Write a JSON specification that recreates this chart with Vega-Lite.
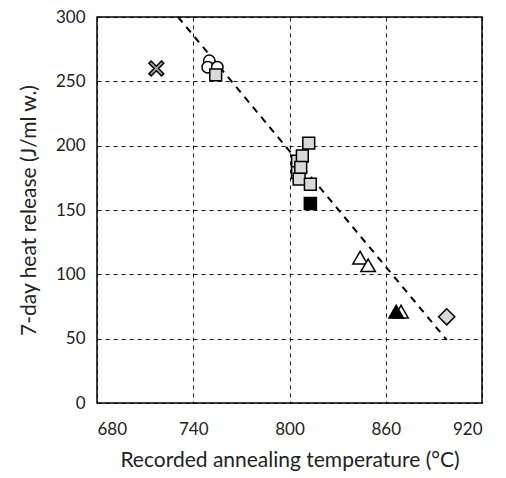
{
  "$schema": "https://vega.github.io/schema/vega-lite/v6.json",
  "autosize": "none",
  "width": 385,
  "height": 386,
  "padding": {"left": 97, "top": 17, "right": 24, "bottom": 75},
  "background": "white",
  "config": {
    "view": {"stroke": "black", "strokeWidth": 1.5},
    "font": "Lato",
    "axis": {
      "labelFont": "Lato",
      "titleFont": "Lato",
      "labelFontSize": 17,
      "titleFontSize": 21,
      "labelColor": "#222",
      "titleColor": "#222",
      "titleFontWeight": "normal",
      "domain": false,
      "ticks": false,
      "gridColor": "black",
      "gridDash": [4, 4],
      "gridWidth": 1,
      "gridOpacity": 0.9
    }
  },
  "datasets": {
    "pts": [
      {"series": "cross", "temp": 717, "heat": 260},
      {"series": "circle", "temp": 750, "heat": 266},
      {"series": "circle", "temp": 749, "heat": 261},
      {"series": "circle", "temp": 755, "heat": 261},
      {"series": "square", "temp": 754, "heat": 255},
      {"series": "square", "temp": 812, "heat": 202},
      {"series": "square", "temp": 805, "heat": 188},
      {"series": "square", "temp": 805, "heat": 179},
      {"series": "square", "temp": 808, "heat": 192},
      {"series": "square", "temp": 807, "heat": 183},
      {"series": "square", "temp": 806, "heat": 174},
      {"series": "square", "temp": 813, "heat": 170},
      {"series": "blacksquare", "temp": 813, "heat": 155},
      {"series": "triangle", "temp": 844, "heat": 113},
      {"series": "triangle", "temp": 849, "heat": 107},
      {"series": "triangle2", "temp": 869.5, "heat": 71},
      {"series": "blacktriangle", "temp": 866.5, "heat": 71},
      {"series": "diamond", "temp": 898, "heat": 67}
    ],
    "trend": [
      {"temp": 730.5, "heat": 300},
      {"temp": 898, "heat": 49}
    ]
  },
  "layer": [
    {
      "data": {"name": "trend"},
      "mark": {"type": "line", "color": "black", "strokeWidth": 2, "strokeDash": [7, 6]},
      "encoding": {
        "x": {"field": "temp", "type": "quantitative"},
        "y": {"field": "heat", "type": "quantitative"}
      }
    },
    {
      "data": {"name": "pts"},
      "mark": {"type": "point", "filled": true, "stroke": "black", "strokeWidth": 1.5, "opacity": 1},
      "encoding": {
        "x": {
          "field": "temp", "type": "quantitative",
          "scale": {"domain": [680, 920], "nice": false, "zero": false},
          "axis": {"values": [680, 740, 800, 860, 920], "title": "Recorded annealing temperature (°C)", "labelPadding": 18, "titlePadding": 12}
        },
        "y": {
          "field": "heat", "type": "quantitative",
          "scale": {"domain": [0, 300], "nice": false},
          "axis": {"values": [0, 50, 100, 150, 200, 250, 300], "title": "7-day heat release (J/ml w.)", "labelPadding": 12, "titlePadding": 16}
        },
        "shape": {
          "field": "series", "type": "nominal", "legend": null,
          "scale": {
            "domain": ["cross", "circle", "square", "blacksquare", "triangle", "triangle2", "blacktriangle", "diamond"],
            "range": ["M-1,-0.7L-0.7,-1L0,-0.3L0.7,-1L1,-0.7L0.3,0L1,0.7L0.7,1L0,0.3L-0.7,1L-1,0.7L-0.3,0Z", "circle", "square", "square", "triangle-up", "triangle-up", "triangle-up", "diamond"]
          }
        },
        "size": {
          "field": "series", "type": "ordinal", "legend": null,
          "scale": {
            "type": "ordinal",
            "domain": ["cross", "circle", "square", "blacksquare", "triangle", "triangle2", "blacktriangle", "diamond"],
            "range": [220, 130, 140, 145, 210, 210, 210, 260]
          }
        },
        "fill": {
          "field": "series", "type": "nominal", "legend": null,
          "scale": {
            "domain": ["cross", "circle", "square", "blacksquare", "triangle", "triangle2", "blacktriangle", "diamond"],
            "range": ["#a6a6a6", "white", "#d9d9d9", "black", "white", "white", "black", "#d9d9d9"]
          }
        }
      }
    }
  ]
}
